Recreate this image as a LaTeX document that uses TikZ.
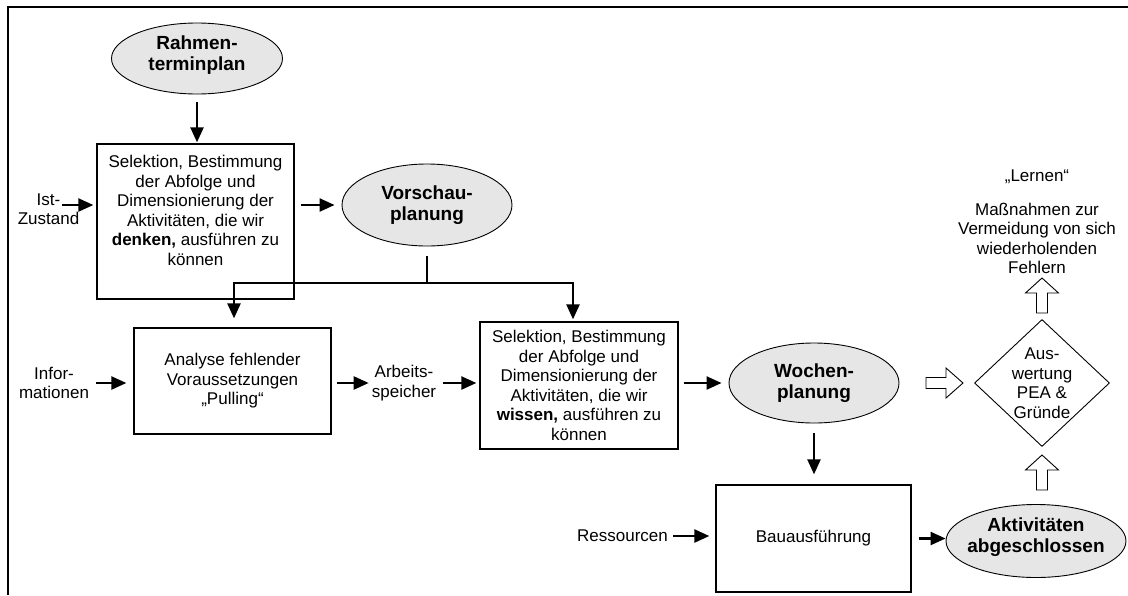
\documentclass[tikz,border=0pt]{standalone}
\usepackage{fontspec}
\setmainfont{Liberation Sans}
\usetikzlibrary{shapes.geometric,arrows.meta,calc}
\definecolor{ovalfill}{RGB}{230,230,230}
% open block arrow pointing along +x, centred on #1, turned by #2 degrees;
% #3 total length, #4 head length, #5 half width of the head
\newcommand\hollowarrow[5]{%
  \draw[hollow, shift={(#1)}, rotate=#2]
    (-#3/2,-5.5) -- ({#3/2-#4},-5.5) -- ({#3/2-#4},-#5) -- ({#3/2},0)
    -- ({#3/2-#4},#5) -- ({#3/2-#4},5.5) -- (-#3/2,5.5) -- cycle;}
\begin{document}
\begin{tikzpicture}[x=1pt,y=-1pt,
  every node/.style={font=\fontsize{17}{19.5}\selectfont, align=center, inner sep=0pt},
  ovaltext/.style={font=\fontsize{19}{21}\selectfont\bfseries},
  oval/.style={ellipse, draw, line width=0.9pt, fill=ovalfill},
  stepbox/.style={rectangle, draw, line width=1.3pt},
  decision/.style={diamond, draw, line width=0.9pt},
  arr/.style={line width=2.3pt, -{Triangle[length=15pt,width=13pt]}},
  link/.style={line width=2.3pt},
  hollow/.style={draw, line width=0.9pt, fill=white, line join=miter}
]
\useasboundingbox (0,0) rectangle (1128,595);
\draw[line width=2pt] (8,595) -- (8,7) -- (1128,7);

% planning levels
\node[oval, minimum width=171pt, minimum height=71pt,
  label={[ovaltext, yshift=3pt]center:{Rahmen-\\terminplan}}] (rahmen) at (197,58.5) {};
\node[stepbox, minimum width=197pt, minimum height=155pt,
  label={[yshift=11pt]center:{Selektion, Bestimmung\\der Abfolge und\\Dimensionierung der\\Aktivitäten, die wir\\\textbf{denken,} ausführen zu\\können}}] (box1) at (195.5,221.5) {};
\node (ist) at (48.5,209) {Ist-\\Zustand};
\coordinate (istout) at (62,205);
\node[oval, minimum width=170pt, minimum height=82pt,
  label={[ovaltext]center:{Vorschau-\\planung}}] (vor) at (427,205) {};

\node[stepbox, minimum width=197pt, minimum height=106pt,
  label={center:{Analyse fehlender\\Voraussetzungen\\„Pulling“}}] (analyse) at (232.5,381) {};
\node (info) at (54,383) {Infor-\\mationen};
\node (speicher) at (404,383) {Arbeits-\\speicher};
\node[stepbox, minimum width=198pt, minimum height=127pt,
  label={center:{Selektion, Bestimmung\\der Abfolge und\\Dimensionierung der\\Aktivitäten, die wir\\\textbf{wissen,} ausführen zu\\können}}] (box2) at (579,385.5) {};
\node[oval, minimum width=170pt, minimum height=80pt,
  label={[ovaltext]center:{Wochen-\\planung}}] (woch) at (814,383) {};

\node[stepbox, minimum width=195pt, minimum height=107pt,
  label={center:Bauausführung}] (bau) at (813.5,538.5) {};
\node (ress) at (622.5,536) {Ressourcen};
\node[oval, minimum width=180pt, minimum height=73pt,
  label={[ovaltext, yshift=4pt]center:{Aktivitäten\\abgeschlossen}}] (akt) at (1036,541) {};

% evaluation and learning
\node[decision, minimum width=135pt, minimum height=127pt,
  label={center:{Aus-\\wertung\\PEA \&\\Gründe}}] (diam) at (1042,383) {};
\node (lernen) at (1037,177) {„Lernen“};
\node (mass) at (1037,238.5) {Maßnahmen zur\\Vermeidung von sich\\wiederholenden\\Fehlern};

% flow
\draw[arr, shorten <=8pt, shorten >=1pt] (rahmen.south) -- (rahmen.south |- box1.north);
\draw[arr, shorten >=3pt] (istout) -- (istout -| box1.west);
\draw[arr, shorten <=6pt, shorten >=7pt] (box1.east |- vor.west) -- (vor.west);
\coordinate (split) at (427,283);
\draw[link, shorten <=10pt] (vor.south) -- (split);
\draw[arr, shorten >=9pt] (split) -| ([xshift=1.5pt]analyse.north);
\draw[arr, shorten >=2pt] (split) -| ([xshift=-6pt]box2.north);
\draw[arr, shorten <=7pt, shorten >=7pt] (info.east) -- (info.east -| analyse.west);
\draw[arr, shorten <=5pt, shorten >=3pt] (analyse.east |- speicher) -- (speicher.west);
\draw[arr, shorten <=7pt, shorten >=3pt] (speicher.east) -- (speicher.east -| box2.west);
\draw[arr, shorten <=5pt, shorten >=7pt] (box2.east |- woch.west) -- (woch.west);
\draw[arr, shorten <=10pt, shorten >=10pt] (woch.south) -- (woch.south |- bau.north);
\draw[arr, shorten <=5pt, shorten >=6pt] (ress.east) -- (ress.east -| bau.west);
\draw[arr, shorten <=7pt] (bau.east) -- (bau.east -| akt.west);

\coordinate (toeval) at (944.5,383);
\coordinate (fromakt) at (1042,472.5);
\coordinate (tolearn) at (1042,295.5);
\hollowarrow{toeval}{0}{37}{17}{15}
\hollowarrow{fromakt}{90}{35}{15}{16.5}
\hollowarrow{tolearn}{90}{35}{15}{16.5}
\end{tikzpicture}
\end{document}
